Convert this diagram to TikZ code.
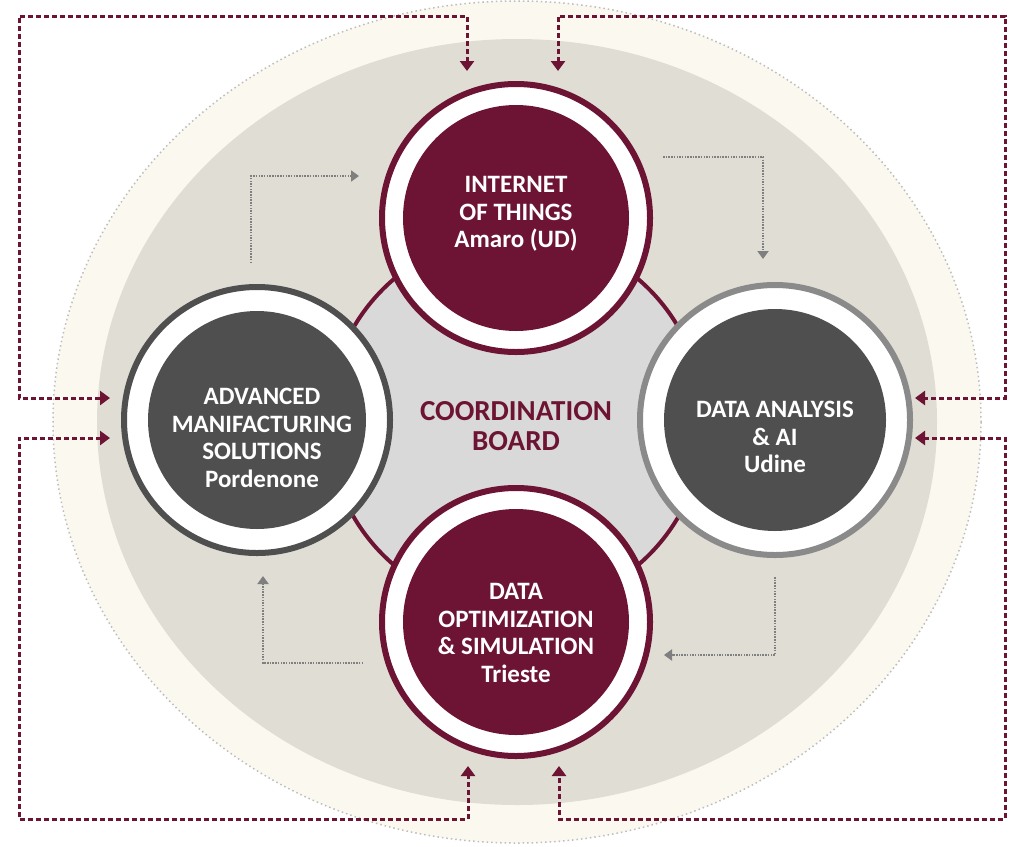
\documentclass[tikz,border=0pt]{standalone}
\usepackage{fontspec}
\setmainfont{Carlito}
\usetikzlibrary{arrows.meta}
\definecolor{maroon}{HTML}{6D1434}
\definecolor{darkg}{HTML}{4F4F4F}
\definecolor{ringg}{HTML}{8A8A8A}
\definecolor{creamc}{HTML}{FBF9EF}
\definecolor{ellg}{HTML}{DFDDD4}
\definecolor{boardg}{HTML}{D9D9D9}
\definecolor{dotg}{HTML}{BDBDBD}
\definecolor{arrg}{HTML}{7F7F7F}
\tikzset{
  ringnode/.style={circle, fill=white, line width=6pt, minimum size=268pt, inner sep=0pt},
  disknode/.style={circle, minimum size=226pt, inner sep=0pt},
  lbl/.style={text=white, font=\bfseries\fontsize{25}{27.5}\selectfont, align=center, inner sep=0pt},
  outerarrow/.style={draw=maroon, line width=3pt, dash pattern=on 5pt off 3pt,
    {Triangle[width=14pt,length=10pt]}-{Triangle[width=14pt,length=10pt]}},
  innerarrow/.style={draw=arrg, line width=2pt, dash pattern=on 1.5pt off 1.2pt,
    -{Triangle[width=11pt,length=8pt]}},
}
\begin{document}
\begin{tikzpicture}[x=1pt,y=-1pt]
\useasboundingbox (0,0) rectangle (1024,846);
\fill[white] (0,0) rectangle (1024,846);
% background ellipses
\fill[creamc] (517,422) ellipse [x radius=464, y radius=421];
\draw[dotg, line width=1.5pt, dash pattern=on 1.5pt off 3pt] (517,422) ellipse [x radius=464, y radius=421];
\fill[ellg] (517,422) ellipse [x radius=420, y radius=383];
% coordination board
\node[circle, draw=maroon, fill=boardg, line width=4pt, minimum size=376pt, inner sep=0pt] (board) at (516,422) {};
\node[text=maroon, font=\bfseries\fontsize{29}{30}\selectfont, align=center, inner sep=0pt] (boardtxt) at (516,426) {COORDINATION\\BOARD};
% ring circles
\node[ringnode, draw=maroon] (iot) at (516,218) {};
\node[disknode, fill=maroon] (iotd) at (iot) {};
\node[ringnode, draw=maroon] (dos) at (516,622) {};
\node[disknode, fill=maroon] (dosd) at (dos) {};
\node[ringnode, draw=darkg, minimum size=266pt] (ams) at (257,420) {};
\node[disknode, fill=darkg, minimum size=218pt] (amsd) at (ams) {};
\node[ringnode, draw=ringg, minimum size=270pt] (daa) at (775,420) {};
\node[disknode, fill=darkg, minimum size=222pt] (daad) at (daa) {};
% labels
\node[lbl] (iott) at (516,214) {INTERNET\\OF THINGS\\Amaro (UD)};
\node[lbl] (dost) at (516,633) {DATA\\OPTIMIZATION\\\& SIMULATION\\Trieste};
\node[lbl] (amst) at (262,438) {ADVANCED\\MANIFACTURING\\SOLUTIONS\\Pordenone};
\node[lbl] (daat) at (775,437) {DATA ANALYSIS\\\& AI\\Udine};
% outer arrow end points
\coordinate (tla) at (467,71);
\coordinate (tlb) at (110,398);
\coordinate (tra) at (558,71);
\coordinate (trb) at (915,398);
\coordinate (bla) at (110,438);
\coordinate (blb) at (468,766);
\coordinate (bra) at (915,438);
\coordinate (brb) at (559,766);
\draw[outerarrow] (tla) -- (467,16) -- (19,16) -- (19,398) -- (tlb);
\draw[outerarrow] (tra) -- (558,16) -- (1005,16) -- (1005,398) -- (trb);
\draw[outerarrow] (bla) -- (19,438) -- (19,819) -- (468,819) -- (blb);
\draw[outerarrow] (bra) -- (1005,438) -- (1005,819) -- (559,819) -- (brb);
% inner arrows
\coordinate (i1s) at (251,263);
\coordinate (i1e) at (359,176);
\coordinate (i2s) at (663,157);
\coordinate (i2e) at (763,259);
\coordinate (i3s) at (775,577);
\coordinate (i3e) at (664,655);
\coordinate (i4s) at (363,663);
\coordinate (i4e) at (263,576);
\draw[innerarrow] (i1s) |- (i1e);
\draw[innerarrow] (i2s) -| (i2e);
\draw[innerarrow] (i3s) |- (i3e);
\draw[innerarrow] (i4s) -| (i4e);
\end{tikzpicture}
\end{document}
